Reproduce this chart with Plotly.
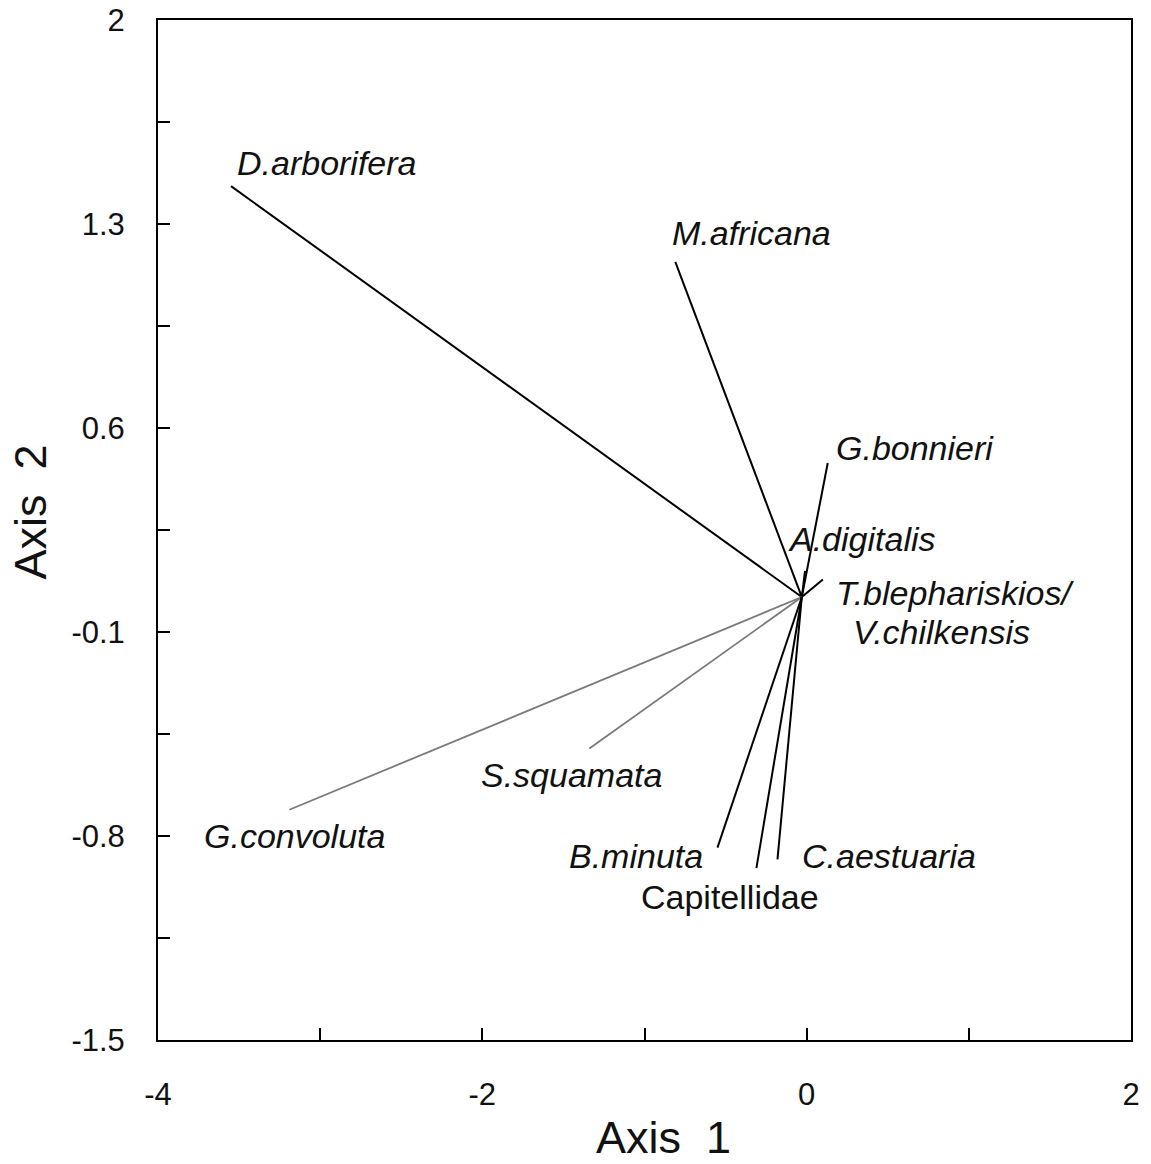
import plotly.graph_objects as go

# Species vectors (Axis 1, Axis 2)
species = ["D.arborifera", "M.africana", "G.bonnieri", "A.digitalis",
           "T.blephariskios", "G.convoluta", "S.squamata", "B.minuta",
           "Capitellidae", "C.aestuaria"]
axis1 = [-3.55, -0.81, 0.13, -0.01, 0.10, -3.19, -1.34, -0.55, -0.31, -0.18]
axis2 = [1.43, 1.17, 0.48, 0.11, 0.08, -0.71, -0.50, -0.84, -0.91, -0.88]
line_colors = ["black", "black", "black", "black", "black",
               "#7a7a7a", "#7a7a7a", "black", "black", "black"]
origin_x, origin_y = -0.03, 0.02

# Label text and placement
labels = ["D.arborifera", "M.africana", "G.bonnieri", "A.digitalis",
          "T.blephariskios/", "V.chilkensis", "G.convoluta", "S.squamata",
          "B.minuta", "Capitellidae", "C.aestuaria"]
label_x = [-2.96, -0.34, 0.67, 0.34, 0.92, 0.83, -3.16, -1.45, -1.05, -0.47, 0.51]
label_y = [1.51, 1.27, 0.53, 0.22, 0.035, -0.10, -0.80, -0.59, -0.87, -1.01, -0.87]
label_italic = [True, True, True, True, True, True, True, True, True, False, True]

x_ticks = [-4, -2, 0, 2]
x_minor = [-3, -1, 1]
y_ticks = [2, 1.3, 0.6, -0.1, -0.8, -1.5]
y_minor = [1.65, 0.95, 0.25, -0.45, -1.15]

NARROW = "Liberation Sans Narrow, Arial Narrow, Liberation Sans, Arial, sans-serif"
SANS = "Liberation Sans, Arial, sans-serif"

fig = go.Figure()
for name, x, y, c in zip(species, axis1, axis2, line_colors):
    fig.add_trace(go.Scatter(
        x=[origin_x, x], y=[origin_y, y], mode="lines", name=name,
        line=dict(color=c, width=2 if c == "black" else 1.8),
        showlegend=False, hoverinfo="name"))

for t, x, y, it in zip(labels, label_x, label_y, label_italic):
    fig.add_annotation(x=x, y=y, xref="x", yref="y",
                       text=f"<i>{t}</i>" if it else t, showarrow=False,
                       xanchor="center", yanchor="middle",
                       font=dict(family=SANS, size=34, color="#111"))

fig.add_annotation(x=-0.88, y=0, xref="x", yref="paper", yshift=-97,
                   text="Axis\u00a0\u00a01", showarrow=False,
                   xanchor="center", yanchor="middle",
                   font=dict(family=NARROW, size=45, color="#111"))
fig.add_annotation(x=0, y=0.31, xref="paper", yref="y", xshift=-127,
                   text="Axis\u00a0\u00a02", showarrow=False, textangle=-90,
                   xanchor="center", yanchor="middle",
                   font=dict(family=NARROW, size=45, color="#111"))

axis_common = dict(showgrid=False, zeroline=False, showline=True,
                   linecolor="black", linewidth=2, mirror=True,
                   ticks="inside", ticklen=12, tickwidth=1.5, tickcolor="black",
                   ticklabeloverflow="allow", automargin=False,
                   tickfont=dict(family=NARROW, size=31, color="#111"))

fig.update_xaxes(range=[-4, 2], tickvals=x_ticks,
                 ticktext=[str(v) for v in x_ticks],
                 minor=dict(tickvals=x_minor, ticks="inside", ticklen=12,
                            tickwidth=1.5, tickcolor="black"),
                 ticklabelstandoff=26, **axis_common)
fig.update_yaxes(range=[-1.5, 2], tickvals=y_ticks,
                 ticktext=[f"{v:g}" for v in y_ticks],
                 minor=dict(tickvals=y_minor, ticks="inside", ticklen=12,
                            tickwidth=1.5, tickcolor="black"),
                 ticklabelstandoff=25, **axis_common)

fig.update_layout(width=1151, height=1164,
                  margin=dict(l=158, r=20, t=20, b=124, autoexpand=False),
                  plot_bgcolor="white", paper_bgcolor="white")

fig.write_html("out.html",
               config={"displayModeBar": False},
               post_script="document.body.style.margin='0';"
                           "document.body.style.overflow='hidden';")
